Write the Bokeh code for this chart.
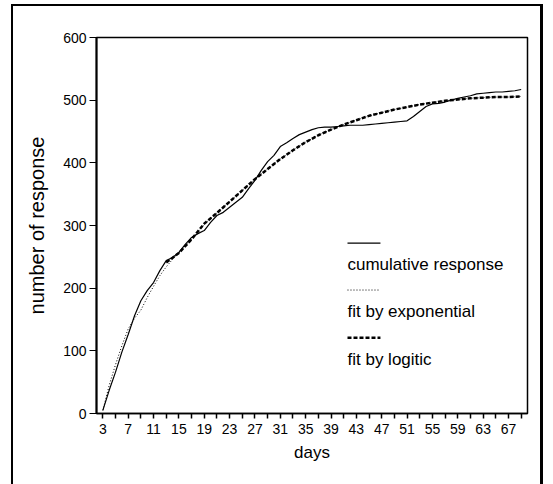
from bokeh.plotting import figure
from bokeh.models import Range1d, FixedTicker, InlineStyleSheet
from bokeh.embed import file_html
from bokeh.resources import INLINE
from bokeh.core.properties import value

# ---------------- data ----------------
days = list(range(3, 70))
cumulative = [5, 37, 66, 98, 126, 156, 180, 196, 209, 228, 244, 249, 257, 270, 281,
              287, 292, 305, 316, 321, 329, 337, 345, 359, 372, 388, 402, 412, 426,
              432, 439, 445, 449, 453, 456, 457, 457, 458, 459, 460, 460, 460, 461,
              462, 463, 464, 465, 466, 467, 474, 482, 490, 494, 495, 497, 500, 503,
              505, 507, 510, 511, 512, 513, 513, 514, 515, 517]

exp_days = [3, 4, 5, 6, 7, 8, 9, 10, 11, 12, 13, 14, 15,
            17, 19, 21, 23, 25, 27, 29, 31, 33, 35, 37, 39, 41, 43, 45, 47, 49,
            51, 53, 55, 57, 59, 61, 63, 65, 67, 69]
exp_fit = [5, 45, 78, 108, 135, 152, 165, 185, 203, 220, 234, 246, 256,
           278, 302, 320, 338, 356, 374, 390, 406, 420, 433, 444, 453, 461, 468,
           475, 480, 485, 489, 493, 496, 499, 501, 503, 504, 505, 505, 506]

logit_days = list(range(13, 70, 2))
logit_fit = [241, 256, 278, 303, 320, 338, 356, 374, 390, 406, 420, 433, 444, 453,
             461, 468, 475, 480, 485, 489, 493, 496, 499, 501, 503, 504, 505, 505, 506]

x_label_ticks = list(range(3, 68, 4))
x_minor_ticks = list(range(5, 70, 4))
y_ticks = [0, 100, 200, 300, 400, 500, 600]

legend_labels = ["cumulative response", "fit by exponential", "fit by logitic"]

FONT = "Liberation Sans"

frame_css = InlineStyleSheet(css="""
:host { position: relative; }
:host::after {
  content: "";
  position: absolute;
  left: 11px; top: 4px; width: 532px; height: 530px;
  border-left: 2px solid #000; border-top: 2px solid #000; border-right: 3px solid #000;
  box-sizing: border-box; pointer-events: none;
}
""")

p = figure(width=553, height=484, output_backend="svg", toolbar_location=None,
           x_range=Range1d(2, 70), y_range=Range1d(0, 600),
           min_border_left=96, min_border_right=26, min_border_top=37,
           min_border_bottom=71, background_fill_color="white",
           border_fill_color="white", stylesheets=[frame_css])
p.grid.visible = False
p.outline_line_color = "black"
p.outline_line_width = 1.5

# axes
xa = p.xaxis[0]
xa.ticker = FixedTicker(ticks=x_label_ticks, minor_ticks=x_minor_ticks)
xa.major_tick_out = 5
xa.major_tick_in = 0
xa.minor_tick_out = 5
xa.minor_tick_in = 0
xa.major_tick_line_color = "black"
xa.minor_tick_line_color = "black"
xa.major_tick_line_width = 1.5
xa.minor_tick_line_width = 1.5
xa.axis_line_width = 1.5
xa.axis_line_color = "black"
xa.major_label_text_font = FONT
xa.major_label_text_font_size = "14px"
xa.major_label_text_color = "black"
xa.major_label_standoff = 5
xa.axis_label = "days"
xa.axis_label_text_font = FONT
xa.axis_label_text_font_size = "17px"
xa.axis_label_text_font_style = "normal"
xa.axis_label_text_color = "black"
xa.axis_label_standoff = 6

ya = p.yaxis[0]
ya.ticker = FixedTicker(ticks=y_ticks)
ya.major_tick_out = 7
ya.major_tick_in = 0
ya.minor_tick_out = 0
ya.minor_tick_in = 0
ya.major_tick_line_color = "black"
ya.axis_line_width = 2
ya.axis_line_color = "black"
ya.major_label_text_font = FONT
ya.major_label_text_font_size = "14px"
ya.major_label_text_color = "black"
ya.major_label_standoff = 3
ya.axis_label = "number of response"
ya.axis_label_text_font = FONT
ya.axis_label_text_font_size = "20px"
ya.axis_label_text_font_style = "normal"
ya.axis_label_text_color = "black"
ya.axis_label_standoff = 12

# series
p.line(exp_days, exp_fit, line_color="black", line_width=1, line_dash="1 2")
p.line(days, cumulative, line_color="black", line_width=1.2)
p.line(logit_days, logit_fit, line_color="black", line_width=2.5, line_dash="4 2")

# legend (sample above text)
lx0, lx1 = 41.6, 46.8
sample_y = [272, 197, 121]
text_y = [238, 163, 86]
dashes = ["solid", "1 2", "4 2"]
widths = [1.2, 1, 2.5]
for sy, d, w in zip(sample_y, dashes, widths):
    p.line([lx0, lx1], [sy, sy], line_color="black", line_width=w, line_dash=d)
p.text(x=[lx0] * 3, y=text_y, text=legend_labels, text_font=value(FONT),
       text_font_size="17px", text_baseline="middle", text_align="left",
       text_color="black")

open("out.html", "w").write(file_html(p, INLINE))
